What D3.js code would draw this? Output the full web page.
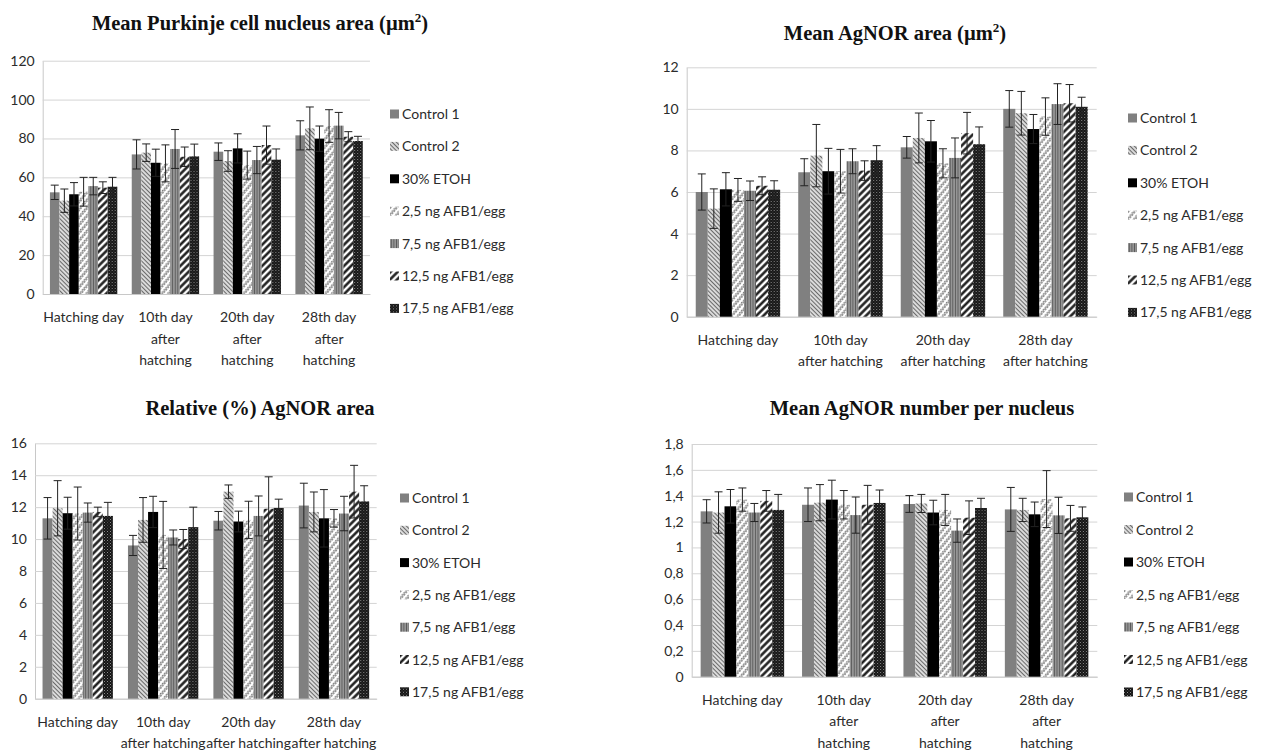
<!DOCTYPE html>
<html>
<head>
<meta charset="utf-8">
<script src="https://cdn.jsdelivr.net/npm/d3@7"></script>
<style>
  body { margin: 0; background: #fff; }
  svg { display: block; }
</style>
</head>
<body>
<script>
// series + categories
const series = ["Control 1", "Control 2", "30% ETOH", "2,5 ng AFB1/egg",
  "7,5 ng AFB1/egg", "12,5 ng AFB1/egg", "17,5 ng AFB1/egg"]
const categories = ["Hatching day", "10th day", "20th day", "28th day"]

// tick labels (line breaks as in the picture)
const labels3 = [["Hatching day"], ["10th day", "after", "hatching"],
  ["20th day", "after", "hatching"], ["28th day", "after", "hatching"]]
const labels2 = [["Hatching day"], ["10th day", "after hatching"],
  ["20th day", "after hatching"], ["28th day", "after hatching"]]

// Mean Purkinje cell nucleus area
const nucArea = [
  [52.3, 48.0, 51.3, 52.6, 55.5, 54.7, 55.2],
  [71.8, 72.7, 67.5, 67.2, 74.6, 70.6, 70.8],
  [73.2, 68.4, 74.9, 66.3, 68.9, 76.6, 69.1],
  [81.6, 85.2, 79.9, 86.4, 86.6, 80.9, 78.7]]
const nucAreaErr = [
  [3.7, 6.0, 6.0, 7.4, 4.5, 3.0, 4.8],
  [7.5, 4.5, 7.0, 9.5, 10.0, 5.0, 6.3],
  [4.5, 5.3, 7.5, 7.2, 7.0, 9.8, 5.5],
  [7.5, 11.0, 6.5, 8.4, 6.8, 2.6, 2.4]]
const nucTicks = [0, 20, 40, 60, 80, 100, 120]

// Mean AgNOR area
const agArea = [
  [6.00, 5.20, 6.13, 6.10, 6.06, 6.30, 6.11],
  [6.95, 7.75, 7.00, 7.00, 7.48, 7.03, 7.53],
  [8.15, 8.60, 8.44, 7.38, 7.64, 8.83, 8.30],
  [10.00, 9.79, 9.03, 9.63, 10.23, 10.27, 10.10]]
const agAreaErr = [
  [0.87, 0.95, 0.80, 0.55, 0.47, 0.43, 0.43],
  [0.65, 1.50, 1.10, 1.05, 0.60, 0.47, 0.70],
  [0.52, 1.20, 1.00, 0.70, 0.96, 1.00, 0.83],
  [0.88, 1.05, 0.70, 0.90, 0.98, 0.90, 0.46]]
const agAreaTicks = [0, 2, 4, 6, 8, 10, 12]

// Relative (%) AgNOR area
const relArea = [
  [11.30, 11.93, 11.62, 11.60, 11.66, 11.70, 11.45],
  [9.60, 11.20, 11.70, 10.26, 10.10, 10.00, 10.75],
  [11.15, 12.97, 11.10, 11.20, 11.45, 11.90, 11.95],
  [12.10, 11.70, 11.30, 11.30, 11.60, 12.97, 12.36]]
const relAreaErr = [
  [1.30, 1.73, 1.00, 1.66, 0.60, 0.30, 0.85],
  [0.63, 1.40, 0.98, 2.10, 0.47, 0.60, 1.25],
  [0.58, 0.42, 0.65, 1.17, 1.25, 2.00, 0.55],
  [1.40, 1.25, 1.80, 0.55, 1.08, 1.65, 0.98]]
const relTicks = [0, 2, 4, 6, 8, 10, 12, 14, 16]

// Mean AgNOR number per nucleus
const agNum = [
  [1.279, 1.27, 1.318, 1.37, 1.27, 1.36, 1.29],
  [1.33, 1.346, 1.37, 1.33, 1.25, 1.33, 1.344],
  [1.336, 1.34, 1.27, 1.29, 1.13, 1.23, 1.305],
  [1.294, 1.29, 1.256, 1.374, 1.248, 1.225, 1.233]]
const agNumErr = [
  [0.09, 0.16, 0.13, 0.09, 0.07, 0.08, 0.12],
  [0.13, 0.14, 0.15, 0.11, 0.14, 0.15, 0.10],
  [0.065, 0.07, 0.095, 0.12, 0.09, 0.13, 0.075],
  [0.17, 0.09, 0.095, 0.22, 0.14, 0.10, 0.08]]
const agNumTicks = [0, 0.2, 0.4, 0.6, 0.8, 1, 1.2, 1.4, 1.6, 1.8]

const font = "Lato, 'Open Sans', sans-serif"
const commaFmt = d => String(d).replace(".", ",")

const svg = d3.select("body").append("svg")
  .attr("width", 1277).attr("height", 753)

// fill patterns, one per series
const defs = svg.append("defs")
function linePattern(id, size, angle, bg, stroke, sw) {
  const p = defs.append("pattern").attr("id", id)
    .attr("patternUnits", "userSpaceOnUse")
    .attr("width", size).attr("height", size)
    .attr("patternTransform", "rotate(" + angle + ")")
  p.append("rect").attr("width", size).attr("height", size).attr("fill", bg)
  p.append("line").attr("x1", size / 2).attr("x2", size / 2)
    .attr("y1", 0).attr("y2", size)
    .attr("stroke", stroke).attr("stroke-width", sw)
}
linePattern("p1", 3, -45, "#fff", "#6a6a6a", 1.5)
linePattern("p4", 2.6, 0, "#9a9a9a", "#5a5a5a", 1)
linePattern("p5", 5, 45, "#fff", "#111", 2.4)
// zig zag
const pz = defs.append("pattern").attr("id", "p3")
  .attr("patternUnits", "userSpaceOnUse").attr("width", 6).attr("height", 5)
  .attr("patternTransform", "rotate(-50)")
pz.append("rect").attr("width", 6).attr("height", 5).attr("fill", "#fff")
pz.append("path").attr("d", "M0,4 L1.5,1 L3,4 L4.5,1 L6,4")
  .attr("fill", "none").attr("stroke", "#6a6a6a").attr("stroke-width", 0.9)
// dark checker
const pc = defs.append("pattern").attr("id", "p6")
  .attr("patternUnits", "userSpaceOnUse").attr("width", 3).attr("height", 3)
pc.append("rect").attr("width", 3).attr("height", 3).attr("fill", "#141414")
pc.append("rect").attr("width", 1).attr("height", 1).attr("fill", "#8a8a8a")
pc.append("rect").attr("x", 1.5).attr("y", 1.5).attr("width", 1).attr("height", 1).attr("fill", "#555")

const fills = ["#808080", "url(#p1)", "#000", "url(#p3)", "url(#p4)", "url(#p5)", "url(#p6)"]

function drawChart(c) {
  const g = svg.append("g")
  const y = d3.scaleLinear().domain([0, c.ticks[c.ticks.length - 1]]).range([c.yBase, c.yTop])
  const x = d3.scaleBand().domain(categories).range([c.x0, c.x1]).padding(0)
  const cw = x.bandwidth()
  const bw = cw / 8.5
  const xs = d3.scaleBand().domain(d3.range(series.length))
    .range([bw * 0.75, cw - bw * 0.75]).padding(0)

  // gridlines + y axis
  const ya = g.append("g").attr("transform", "translate(" + c.x0 + ",0)")
    .call(d3.axisLeft(y).tickValues(c.ticks).tickFormat(c.fmt || (d => d))
      .tickSize(-(c.x1 - c.x0)).tickSizeOuter(0).tickPadding(8))
  ya.select(".domain").attr("stroke", "#c8c8c8")
  ya.selectAll(".tick line").attr("stroke", "#d4d4d4")
  ya.selectAll("text").attr("font-family", font).attr("font-size", 14).attr("fill", "#2b2b2b")

  // x axis baseline + labels
  const xa = g.append("g").attr("transform", "translate(0," + c.yBase + ")")
    .call(d3.axisBottom(x).tickSize(0).tickPadding(0).tickFormat(""))
  xa.select(".domain").attr("stroke", "#c8c8c8")
  xa.selectAll(".tick").each(function (d, i) {
    const t = d3.select(this).append("text")
      .attr("font-family", font).attr("font-size", 14).attr("fill", "#2b2b2b")
      .attr("text-anchor", "middle")
    c.labels[i].forEach((ln, k) => {
      t.append("tspan").attr("x", 0).attr("y", 28 + k * 21.5).text(ln)
    })
  })

  // bars
  categories.forEach((cat, ci) => {
    const cg = g.append("g").attr("transform", "translate(" + x(cat) + ",0)")
    cg.selectAll("rect").data(c.values[ci]).join("rect")
      .attr("x", (d, si) => xs(si)).attr("width", xs.bandwidth())
      .attr("y", d => y(d)).attr("height", d => c.yBase - y(d))
      .attr("fill", (d, si) => fills[si])
    // error bars
    const eb = cg.selectAll("g.err").data(c.values[ci]).join("g").attr("class", "err")
      .attr("stroke", "#222").attr("stroke-width", 1)
    eb.append("line")
      .attr("x1", (d, si) => xs(si) + xs.bandwidth() / 2)
      .attr("x2", (d, si) => xs(si) + xs.bandwidth() / 2)
      .attr("y1", (d, si) => y(d - c.errs[ci][si]))
      .attr("y2", (d, si) => y(d + c.errs[ci][si]))
    ;[1, -1].forEach(s => {
      eb.append("line")
        .attr("x1", (d, si) => xs(si) + xs.bandwidth() / 2 - 4)
        .attr("x2", (d, si) => xs(si) + xs.bandwidth() / 2 + 4)
        .attr("y1", (d, si) => y(d + s * c.errs[ci][si]))
        .attr("y2", (d, si) => y(d + s * c.errs[ci][si]))
    })
  })

  // title
  const tt = svg.append("text").attr("x", c.titleX).attr("y", c.titleY)
    .attr("text-anchor", "middle").attr("font-family", "'Liberation Serif', 'Times New Roman', serif")
    .attr("font-weight", "bold").attr("font-size", 20.5).attr("fill", "#111")
  tt.append("tspan").text(c.title)
  if (c.sup) {
    tt.append("tspan").attr("font-size", 13).attr("dy", -8).text("2")
    tt.append("tspan").attr("dy", 8).text(")")
  }

  // legend
  const lg = svg.append("g").attr("transform", "translate(" + c.legX + "," + c.legY + ")")
  series.forEach((s, i) => {
    const row = lg.append("g").attr("transform", "translate(0," + i * c.legStep + ")")
    row.append("rect").attr("x", 0).attr("y", -4.5).attr("width", 9).attr("height", 9)
      .attr("fill", fills[i])
    row.append("text").attr("x", 12).attr("y", 5)
      .attr("font-family", font).attr("font-size", 14).attr("fill", "#2b2b2b").text(s)
  })
}

drawChart({ x0: 42.7, x1: 370, yBase: 294, yTop: 60.7, ticks: nucTicks,
  values: nucArea, errs: nucAreaErr, labels: labels3,
  title: "Mean Purkinje cell nucleus area (\u00b5m", sup: true, titleX: 260, titleY: 30,
  legX: 390, legY: 114, legStep: 32.4 })

drawChart({ x0: 686.7, x1: 1096.7, yBase: 316.7, yTop: 67.3, ticks: agAreaTicks,
  values: agArea, errs: agAreaErr, labels: labels2,
  title: "Mean AgNOR area (\u00b5m", sup: true, titleX: 895, titleY: 40,
  legX: 1128, legY: 118, legStep: 32.4 })

drawChart({ x0: 35, x1: 376.7, yBase: 698.7, yTop: 443.3, ticks: relTicks,
  values: relArea, errs: relAreaErr, labels: labels2,
  title: "Relative (%) AgNOR area", titleX: 260, titleY: 415,
  legX: 400, legY: 498, legStep: 32.3 })

drawChart({ x0: 691.7, x1: 1097.3, yBase: 676.7, yTop: 444, ticks: agNumTicks, fmt: commaFmt,
  values: agNum, errs: agNumErr, labels: labels3,
  title: "Mean AgNOR number per nucleus", titleX: 922, titleY: 415,
  legX: 1124, legY: 497, legStep: 32.5 })
</script>
</body>
</html>
